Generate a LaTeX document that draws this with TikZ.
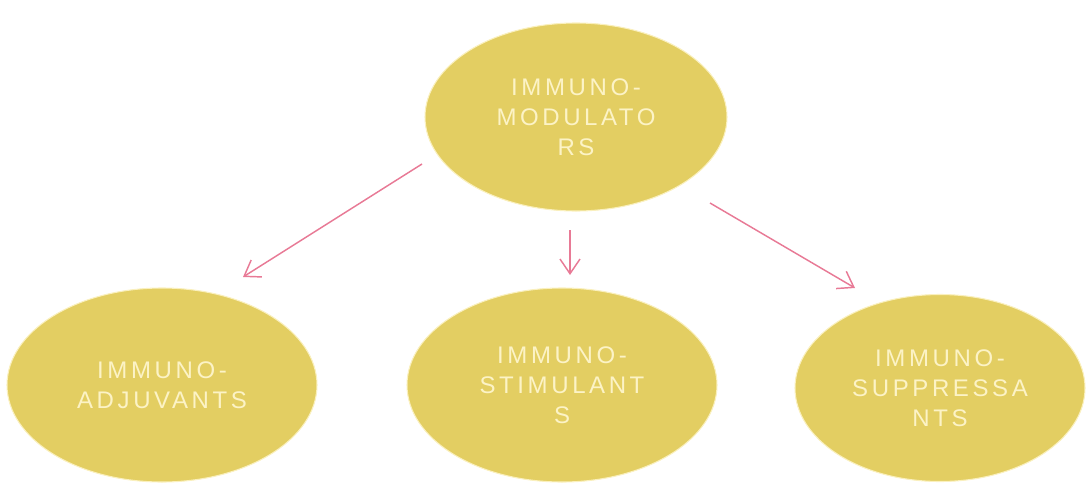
\documentclass[tikz,border=0pt]{standalone}
\usepackage{fontspec}
\usetikzlibrary{shapes.geometric,arrows.meta,calc}
\newfontfamily\lblfont[LetterSpace=15]{Liberation Sans}
\definecolor{ellfill}{RGB}{227,206,98}
\definecolor{ellline}{RGB}{250,240,190}
\definecolor{elltext}{RGB}{252,243,198}
\definecolor{arrcol}{RGB}{232,122,150}
\begin{document}
\begin{tikzpicture}[x=0.75pt,y=-0.75pt,
  bubble/.style={ellipse, draw=ellline, line width=0.8pt, fill=ellfill,
    text=elltext, inner sep=0pt, align=center,
    font=\lblfont\fontsize{18pt}{22.5pt}\selectfont},
  link/.style={draw=arrcol, line width=1.1pt,
    -{Straight Barb[length=11pt,width=15pt,line width=1.1pt]}}]
\useasboundingbox (0,0) rectangle (1086,486);
\node[bubble, minimum width=226.5pt, minimum height=141pt] (top) at (576,117)
  {IMMUNO-\\MODULATO\\RS};
\node[bubble, minimum width=232.5pt, minimum height=145.5pt] (left) at (162,385)
  {IMMUNO-\\ADJUVANTS};
\node[bubble, minimum width=232.5pt, minimum height=145.5pt] (mid) at (562,385)
  {IMMUNO-\\STIMULANT\\S};
\node[bubble, minimum width=217.5pt, minimum height=140.25pt] (right) at (940,388)
  {IMMUNO-\\SUPPRESSA\\NTS};
\draw[link] ($(top.center)+(-154,47)$) -- ($(left.center)+(81,-108)$);
\draw[link] ($(top.center)+(-6,113)$) -- ($(mid.center)+(8,-110)$);
\draw[link] ($(top.center)+(134,86)$) -- ($(right.center)+(-85,-100)$);
\end{tikzpicture}
\end{document}
